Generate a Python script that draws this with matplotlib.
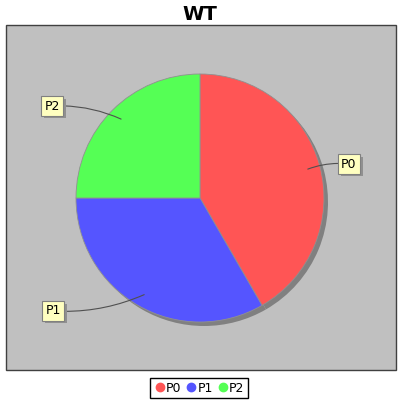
import matplotlib.pyplot as plt
import matplotlib.patheffects as pe
from matplotlib.patches import Rectangle
from matplotlib.lines import Line2D
import numpy as np

title = "WT"
labels = ["P0", "P1", "P2"]
values = [5, 4, 3]
colors = ["#FF5555", "#5555FF", "#55FF55"]

# label box positions (pixel coords, y up)
label_pos = [(349, 236), (53, 89), (52, 294)]

fig = plt.figure(figsize=(4, 4), dpi=100)
ax = fig.add_axes([0, 0, 1, 1])

# plot area
ax.add_patch(Rectangle((5.5, 30), 390, 345, facecolor="#C0C0C0",
                       edgecolor="#404040", linewidth=1, zorder=0))

cx, cy, r = 200, 202, 124

# shadow
ax.pie(values, colors=["#808080"] * 3, startangle=90, counterclock=False,
       center=(cx + 4, cy - 4), radius=r, wedgeprops=dict(linewidth=0))
wedges, _ = ax.pie(values, colors=colors, startangle=90, counterclock=False,
                   center=(cx, cy), radius=r,
                   wedgeprops=dict(linewidth=0.6, edgecolor="#909090"))

rads = [0.12, 0.12, -0.12]
for w, lab, pos, rad in zip(wedges, labels, label_pos, rads):
    mid = np.deg2rad((w.theta1 + w.theta2) / 2)
    px = cx + 0.9 * r * np.cos(mid)
    py = cy + 0.9 * r * np.sin(mid)
    ann = ax.annotate(lab, xy=(px, py), xytext=pos, fontsize=9, ha="center",
                      va="center", zorder=5,
                      bbox=dict(boxstyle="square,pad=0.25", facecolor="#FFFFC0",
                                edgecolor="#808080", linewidth=0.8),
                      arrowprops=dict(arrowstyle="-", color="#505050", lw=0.8,
                                      connectionstyle="arc3,rad=%s" % rad,
                                      shrinkA=0, shrinkB=0))
    ann.get_bbox_patch().set_path_effects([
        pe.SimplePatchShadow(offset=(2, -2), shadow_rgbFace="#909090", alpha=1),
        pe.Normal()])

ax.text(200, 386, title, fontsize=14, fontweight="bold", ha="center",
        va="center")

handles = [Line2D([], [], marker="o", linestyle="none", markersize=6,
                  markerfacecolor=c, markeredgecolor=c) for c in colors]
ax.legend(handles, labels, loc="center", bbox_to_anchor=(0.4975, 0.03),
          ncol=3, fontsize=9, frameon=True, fancybox=False,
          edgecolor="black", handletextpad=0.0, columnspacing=0.3,
          borderpad=0.25, handlelength=1.0, borderaxespad=0, framealpha=1)

ax.set_xlim(0, 400)
ax.set_ylim(0, 400)
ax.set_aspect("auto")
ax.axis("off")

fig.savefig("out.png", dpi=100)
